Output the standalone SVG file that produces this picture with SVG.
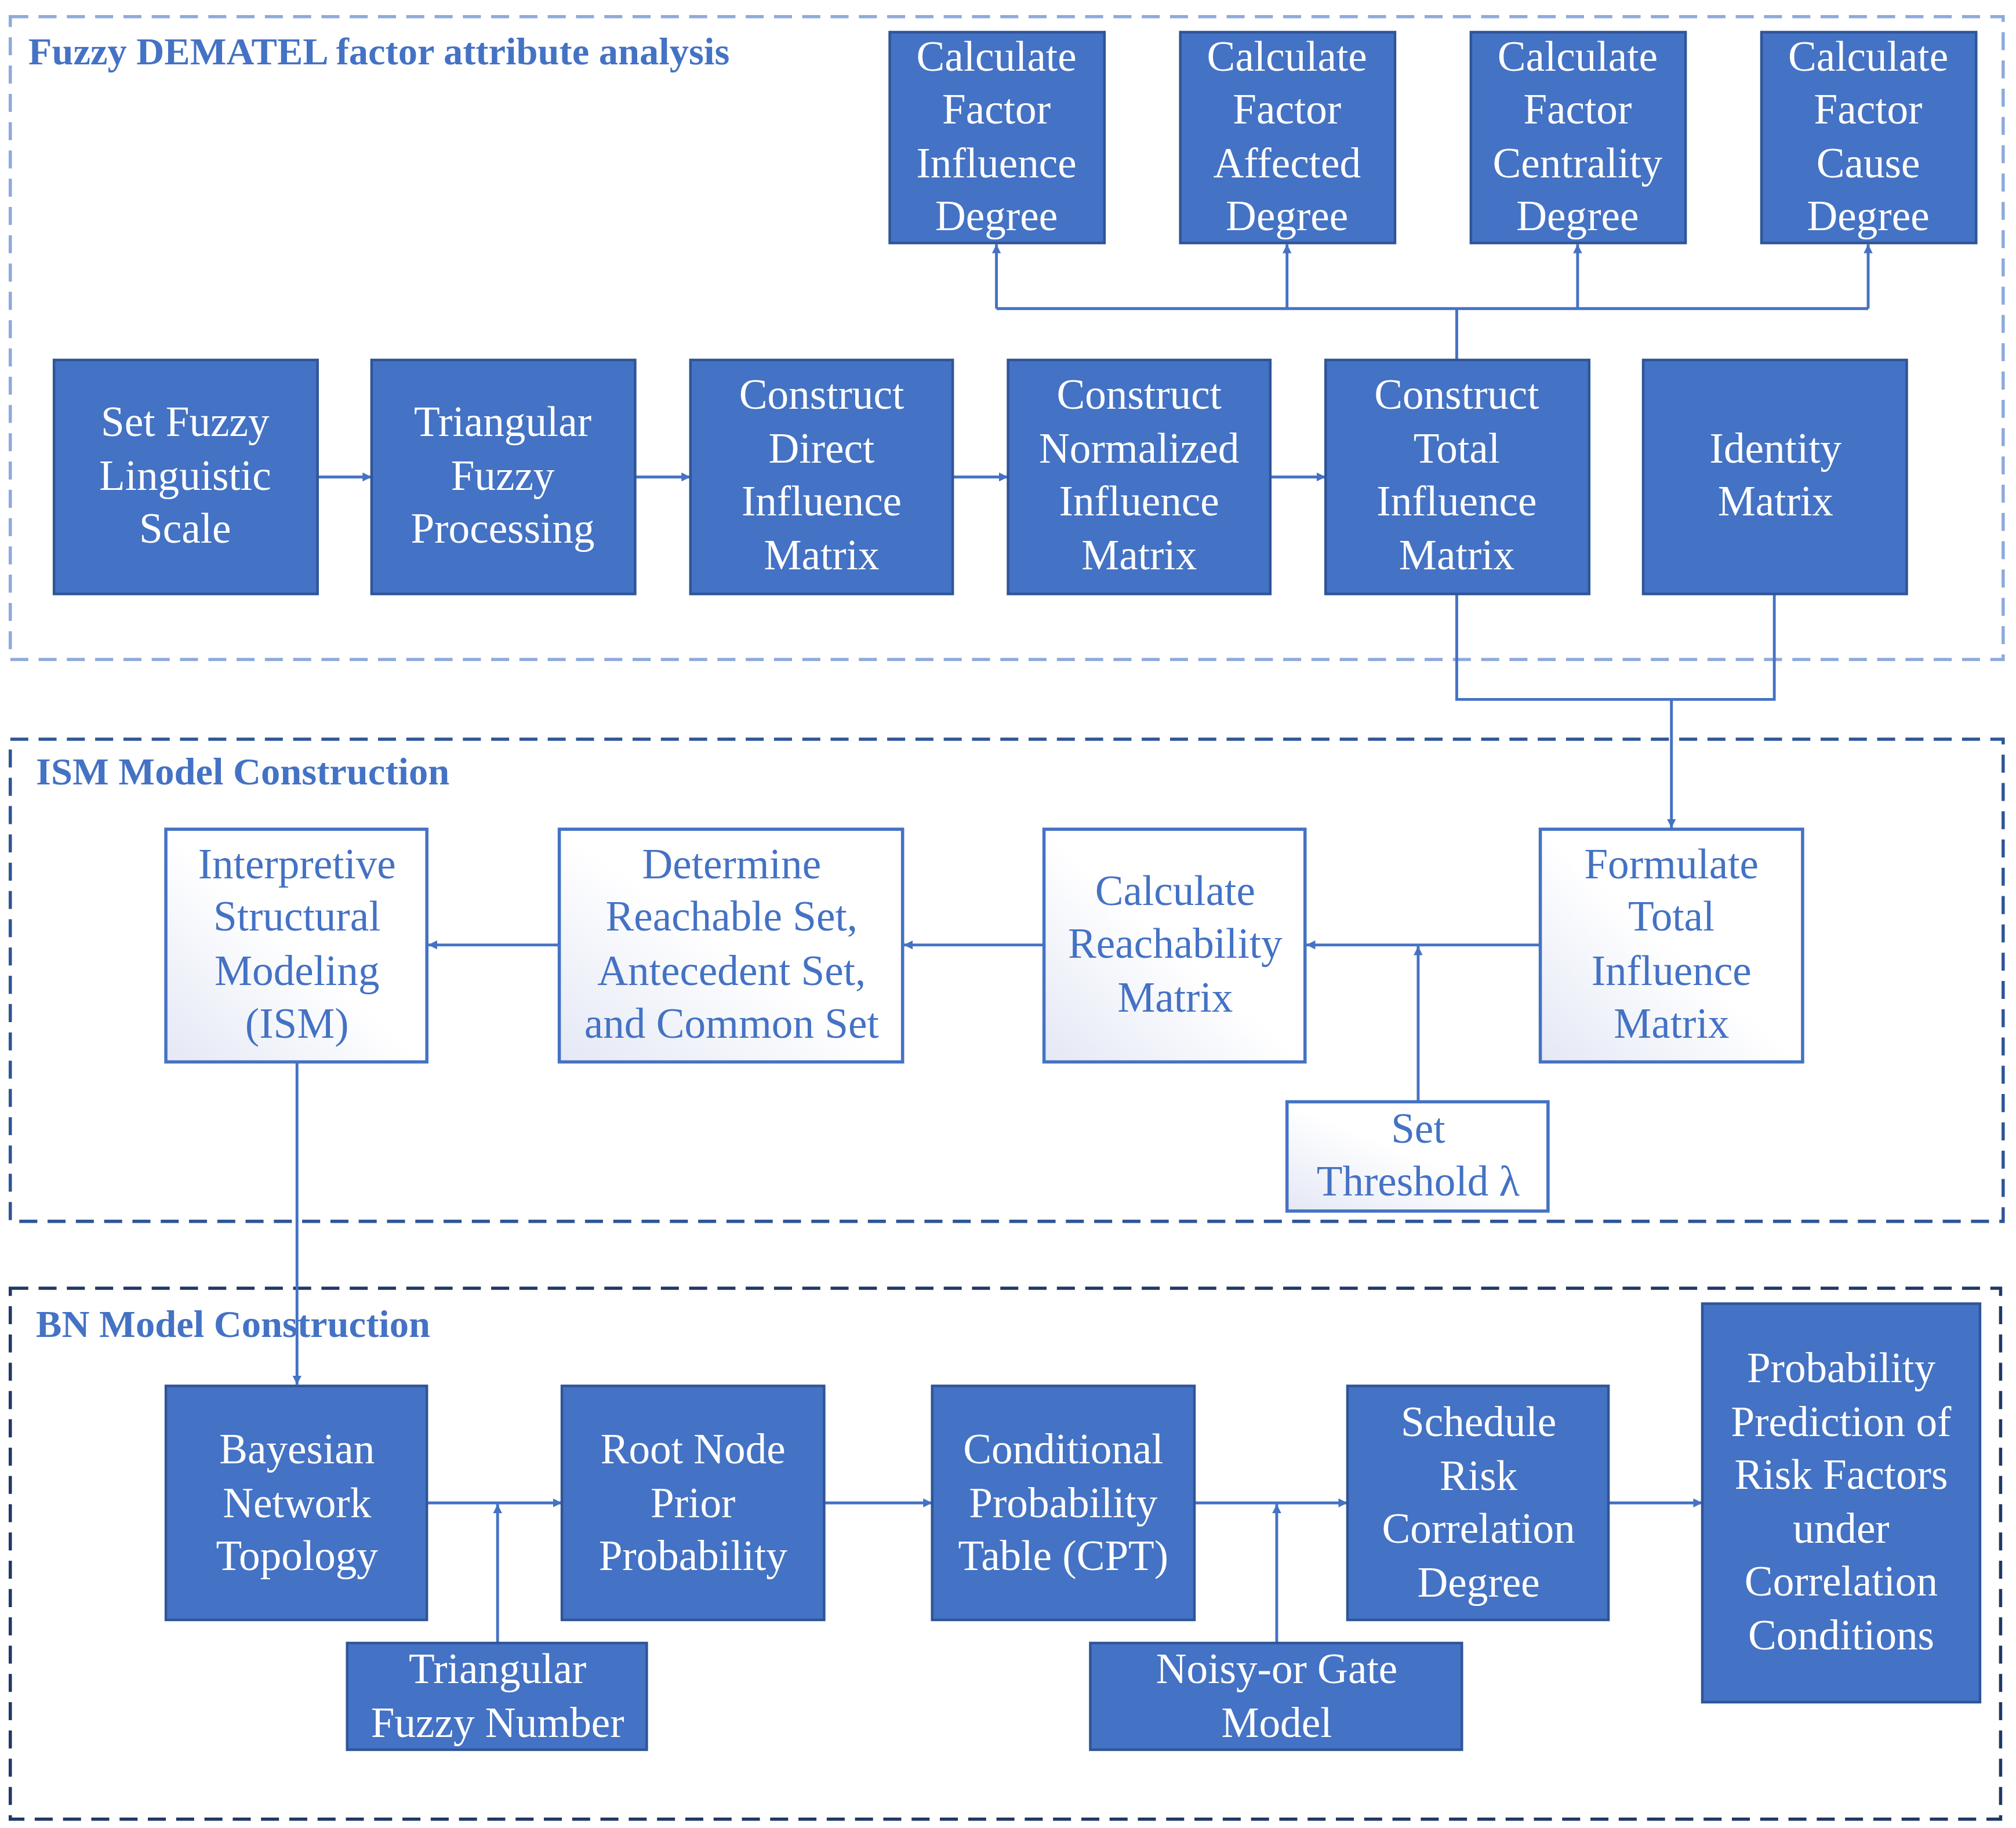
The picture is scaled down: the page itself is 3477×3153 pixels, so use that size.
<svg xmlns="http://www.w3.org/2000/svg" width="3477" height="3153" viewBox="0 0 3477 3153">
<style>
.t{font-family:"Liberation Serif","Times New Roman",serif;font-size:33px;text-anchor:middle}
.w{fill:#fff}.b{fill:#4472C4}
.f{fill:#4472C4;stroke:#2F5597;stroke-width:2}
.g{fill:url(#gr);stroke:#4472C4;stroke-width:2.5}
.h{font-family:"Liberation Serif","Times New Roman",serif;font-size:30px;font-weight:bold;fill:#4472C4}
.c{fill:none;stroke:#4472C4;stroke-width:2.2}
</style>
<defs>
<linearGradient id="gr" x1="0" y1="1" x2="1" y2="0"><stop offset="0" stop-color="#E4E8F5"/><stop offset="0.5" stop-color="#FFFFFF"/><stop offset="1" stop-color="#FFFFFF"/></linearGradient>
<marker id="a" viewBox="0 0 10 10" refX="10" refY="5" markerWidth="7" markerHeight="7" orient="auto" markerUnits="userSpaceOnUse"><path d="M0,0L10,5L0,10z" fill="#4472C4"/></marker>
</defs>
<rect width="3477" height="3153" fill="#fff"/>
<g transform="scale(2.2175)">
<g id="groups">
<rect x="8" y="13" width="1550" height="500" fill="none" stroke="#8EAADB" stroke-width="2.5" stroke-dasharray="14,8"/>
<text class="h" x="22" y="50">Fuzzy DEMATEL factor attribute analysis</text>
<rect x="8" y="575" width="1550" height="375" fill="none" stroke="#2F5597" stroke-width="2.5" stroke-dasharray="14,8"/>
<text class="h" x="28" y="610">ISM Model Construction</text>
<rect x="8" y="1002" width="1548" height="413" fill="none" stroke="#203864" stroke-width="2.5" stroke-dasharray="14,8"/>
<text class="h" x="28" y="1040">BN Model Construction</text>
</g>
<g id="connectors">
<path class="c" d="M247,371H289" marker-end="url(#a)"/>
<path class="c" d="M494,371H537" marker-end="url(#a)"/>
<path class="c" d="M741,371H784" marker-end="url(#a)"/>
<path class="c" d="M988,371H1031" marker-end="url(#a)"/>
<path class="c" d="M1133,280V240M775,240H1453"/>
<path class="c" d="M775,240V190" marker-end="url(#a)"/>
<path class="c" d="M1001,240V190" marker-end="url(#a)"/>
<path class="c" d="M1227,240V190" marker-end="url(#a)"/>
<path class="c" d="M1453,240V190" marker-end="url(#a)"/>
<path class="c" d="M1133,462V544H1380V462M1300,544V644" marker-end="url(#a)"/>
<path class="c" d="M1198,735H1016" marker-end="url(#a)"/>
<path class="c" d="M812,735H703" marker-end="url(#a)"/>
<path class="c" d="M435,735H333" marker-end="url(#a)"/>
<path class="c" d="M1103,857V736" marker-end="url(#a)"/>
<path class="c" d="M231,826V1077" marker-end="url(#a)"/>
<path class="c" d="M332,1169H437" marker-end="url(#a)"/>
<path class="c" d="M641,1169H725" marker-end="url(#a)"/>
<path class="c" d="M929,1169H1048" marker-end="url(#a)"/>
<path class="c" d="M1251,1169H1324" marker-end="url(#a)"/>
<path class="c" d="M387,1278V1170" marker-end="url(#a)"/>
<path class="c" d="M993,1278V1170" marker-end="url(#a)"/>
</g>
<g id="n1"><rect class="f" x="692" y="25" width="167" height="164"/><text class="t w"><tspan x="775" y="55">Calculate</tspan><tspan x="775" y="96">Factor</tspan><tspan x="775" y="138">Influence</tspan><tspan x="775" y="179">Degree</tspan></text></g>
<g id="n2"><rect class="f" x="918" y="25" width="167" height="164"/><text class="t w"><tspan x="1001" y="55">Calculate</tspan><tspan x="1001" y="96">Factor</tspan><tspan x="1001" y="138">Affected</tspan><tspan x="1001" y="179">Degree</tspan></text></g>
<g id="n3"><rect class="f" x="1144" y="25" width="167" height="164"/><text class="t w"><tspan x="1227" y="55">Calculate</tspan><tspan x="1227" y="96">Factor</tspan><tspan x="1227" y="138">Centrality</tspan><tspan x="1227" y="179">Degree</tspan></text></g>
<g id="n4"><rect class="f" x="1370" y="25" width="167" height="164"/><text class="t w"><tspan x="1453" y="55">Calculate</tspan><tspan x="1453" y="96">Factor</tspan><tspan x="1453" y="138">Cause</tspan><tspan x="1453" y="179">Degree</tspan></text></g>
<g id="n5"><rect class="f" x="42" y="280" width="205" height="182"/><text class="t w"><tspan x="144" y="339">Set Fuzzy</tspan><tspan x="144" y="381">Linguistic</tspan><tspan x="144" y="422">Scale</tspan></text></g>
<g id="n6"><rect class="f" x="289" y="280" width="205" height="182"/><text class="t w"><tspan x="391" y="339">Triangular</tspan><tspan x="391" y="381">Fuzzy</tspan><tspan x="391" y="422">Processing</tspan></text></g>
<g id="n7"><rect class="f" x="537" y="280" width="204" height="182"/><text class="t w"><tspan x="639" y="318">Construct</tspan><tspan x="639" y="360">Direct</tspan><tspan x="639" y="401">Influence</tspan><tspan x="639" y="443">Matrix</tspan></text></g>
<g id="n8"><rect class="f" x="784" y="280" width="204" height="182"/><text class="t w"><tspan x="886" y="318">Construct</tspan><tspan x="886" y="360">Normalized</tspan><tspan x="886" y="401">Influence</tspan><tspan x="886" y="443">Matrix</tspan></text></g>
<g id="n9"><rect class="f" x="1031" y="280" width="205" height="182"/><text class="t w"><tspan x="1133" y="318">Construct</tspan><tspan x="1133" y="360">Total</tspan><tspan x="1133" y="401">Influence</tspan><tspan x="1133" y="443">Matrix</tspan></text></g>
<g id="n10"><rect class="f" x="1278" y="280" width="205" height="182"/><text class="t w"><tspan x="1381" y="360">Identity</tspan><tspan x="1381" y="401">Matrix</tspan></text></g>
<g id="n11"><rect class="g" x="129" y="645" width="203" height="181"/><text class="t b"><tspan x="231" y="683">Interpretive</tspan><tspan x="231" y="724">Structural</tspan><tspan x="231" y="766">Modeling</tspan><tspan x="231" y="807">(ISM)</tspan></text></g>
<g id="n12"><rect class="g" x="435" y="645" width="267" height="181"/><text class="t b"><tspan x="569" y="683">Determine</tspan><tspan x="569" y="724">Reachable Set,</tspan><tspan x="569" y="766">Antecedent Set,</tspan><tspan x="569" y="807">and Common Set</tspan></text></g>
<g id="n13"><rect class="g" x="812" y="645" width="203" height="181"/><text class="t b"><tspan x="914" y="704">Calculate</tspan><tspan x="914" y="745">Reachability</tspan><tspan x="914" y="787">Matrix</tspan></text></g>
<g id="n14"><rect class="g" x="1198" y="645" width="204" height="181"/><text class="t b"><tspan x="1300" y="683">Formulate</tspan><tspan x="1300" y="724">Total</tspan><tspan x="1300" y="766">Influence</tspan><tspan x="1300" y="807">Matrix</tspan></text></g>
<g id="n15"><rect class="g" x="1001" y="857" width="203" height="85"/><text class="t b"><tspan x="1103" y="889">Set</tspan><tspan x="1103" y="930">Threshold λ</tspan></text></g>
<g id="n16"><rect class="f" x="129" y="1078" width="203" height="182"/><text class="t w"><tspan x="231" y="1138">Bayesian</tspan><tspan x="231" y="1180">Network</tspan><tspan x="231" y="1221">Topology</tspan></text></g>
<g id="n17"><rect class="f" x="437" y="1078" width="204" height="182"/><text class="t w"><tspan x="539" y="1138">Root Node</tspan><tspan x="539" y="1180">Prior</tspan><tspan x="539" y="1221">Probability</tspan></text></g>
<g id="n18"><rect class="f" x="725" y="1078" width="204" height="182"/><text class="t w"><tspan x="827" y="1138">Conditional</tspan><tspan x="827" y="1180">Probability</tspan><tspan x="827" y="1221">Table (CPT)</tspan></text></g>
<g id="n19"><rect class="f" x="1048" y="1078" width="203" height="182"/><text class="t w"><tspan x="1150" y="1117">Schedule</tspan><tspan x="1150" y="1159">Risk</tspan><tspan x="1150" y="1200">Correlation</tspan><tspan x="1150" y="1242">Degree</tspan></text></g>
<g id="n20"><rect class="f" x="1324" y="1014" width="216" height="310"/><text class="t w"><tspan x="1432" y="1075">Probability</tspan><tspan x="1432" y="1117">Prediction of</tspan><tspan x="1432" y="1158">Risk Factors</tspan><tspan x="1432" y="1200">under</tspan><tspan x="1432" y="1241">Correlation</tspan><tspan x="1432" y="1283">Conditions</tspan></text></g>
<g id="n21"><rect class="f" x="270" y="1278" width="233" height="83"/><text class="t w"><tspan x="387" y="1309">Triangular</tspan><tspan x="387" y="1351">Fuzzy Number</tspan></text></g>
<g id="n22"><rect class="f" x="848" y="1278" width="289" height="83"/><text class="t w"><tspan x="993" y="1309">Noisy-or Gate</tspan><tspan x="993" y="1351">Model</tspan></text></g>
</g>
</svg>
